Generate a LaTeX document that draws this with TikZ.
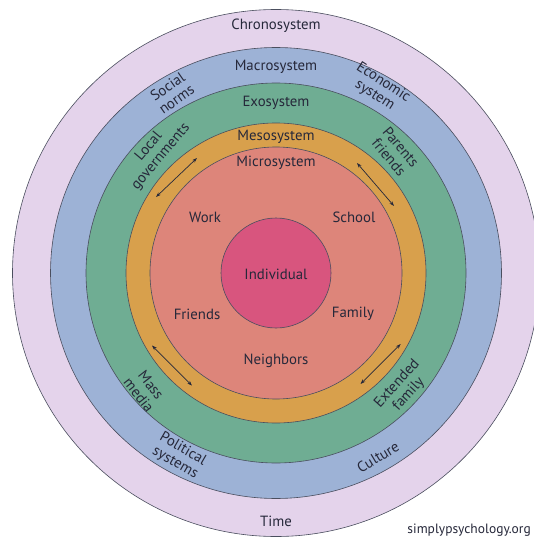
\documentclass[tikz,border=0pt]{standalone}
\usepackage{fontspec}
\setmainfont{PT Sans}
\usetikzlibrary{arrows.meta}
\definecolor{chronoC}{HTML}{E4D3EB}
\definecolor{macroC}{HTML}{9DB2D6}
\definecolor{exoC}{HTML}{6FAD93}
\definecolor{mesoC}{HTML}{D8A04C}
\definecolor{microC}{HTML}{DD857A}
\definecolor{indC}{HTML}{D8557E}
\definecolor{ringLine}{HTML}{4A4E5E}
\definecolor{txtC}{HTML}{26283A}
\tikzset{
  ring/.style={draw=ringLine, line width=0.6pt},
  lbl/.style={text=txtC, font=\fontsize{14.8}{15.5}\selectfont, inner sep=0pt, align=center},
  biarrow/.style={draw=txtC, line width=0.7pt, {Stealth[length=5pt,width=3.5pt]}-{Stealth[length=5pt,width=3.5pt]}},
}
\begin{document}
\begin{tikzpicture}[x=1pt,y=-1pt]
\useasboundingbox (0,0) rectangle (534,537);
\clip (0,0) rectangle (534,537);
\fill[white] (0,0) rectangle (534,537);
\coordinate (c) at (276,273);
\filldraw[ring, fill=chronoC] (c) circle[radius=263.5];
\filldraw[ring, fill=macroC] (c) circle[radius=225.5];
\filldraw[ring, fill=exoC] (c) circle[radius=190];
\filldraw[ring, fill=mesoC] (c) circle[radius=150];
\filldraw[ring, fill=microC] (c) circle[radius=126];
\filldraw[ring, fill=indC] (c) circle[radius=55];

\node[lbl] (chrono) at (276,26) {Chronosystem};
\node[lbl] (macro) at (276,67) {Macrosystem};
\node[lbl] (exo) at (276,103) {Exosystem};
\node[lbl] (meso) at (276,137) {Mesosystem};
\node[lbl] (micro) at (276,163) {Microsystem};
\node[lbl] (work) at (205,217) {Work};
\node[lbl] (school) at (354,217) {School};
\node[lbl] (ind) at (276,274) {Individual};
\node[lbl] (friends) at (197,314) {Friends};
\node[lbl] (family) at (353,314) {Family};
\node[lbl] (neigh) at (276,361) {Neighbors};
\node[lbl] (time) at (276,521) {Time};
\node[lbl, font=\fontsize{13.5}{14}\selectfont, anchor=base east] (site) at (531,533) {simplypsychology.org};

\node[lbl, rotate=35] (social) at (172,93) {Social\\norms};
\node[lbl, rotate=-33] (econ) at (379,89) {Economic\\system};
\node[lbl, rotate=50] (local) at (155,152) {Local\\governments};
\node[lbl, rotate=-50] (parents) at (395,152) {Parents\\friends};
\node[lbl, rotate=-52] (mass) at (145,390) {Mass\\media};
\node[lbl, rotate=48] (ext) at (403,389) {Extended\\family};
\node[lbl, rotate=-30] (pol) at (179,456) {Political\\systems};
\node[lbl, rotate=31] (cult) at (378,457) {Culture};

\coordinate (a1s) at (156,197); \coordinate (a1e) at (197,158);
\coordinate (a2s) at (357,163); \coordinate (a2e) at (394,206);
\coordinate (a3s) at (152,345.5); \coordinate (a3e) at (192,385.6);
\coordinate (a4s) at (400.7,344); \coordinate (a4e) at (360.5,384);
\draw[biarrow] (a1s) -- (a1e);
\draw[biarrow] (a2s) -- (a2e);
\draw[biarrow] (a3s) -- (a3e);
\draw[biarrow] (a4s) -- (a4e);
\end{tikzpicture}
\end{document}
